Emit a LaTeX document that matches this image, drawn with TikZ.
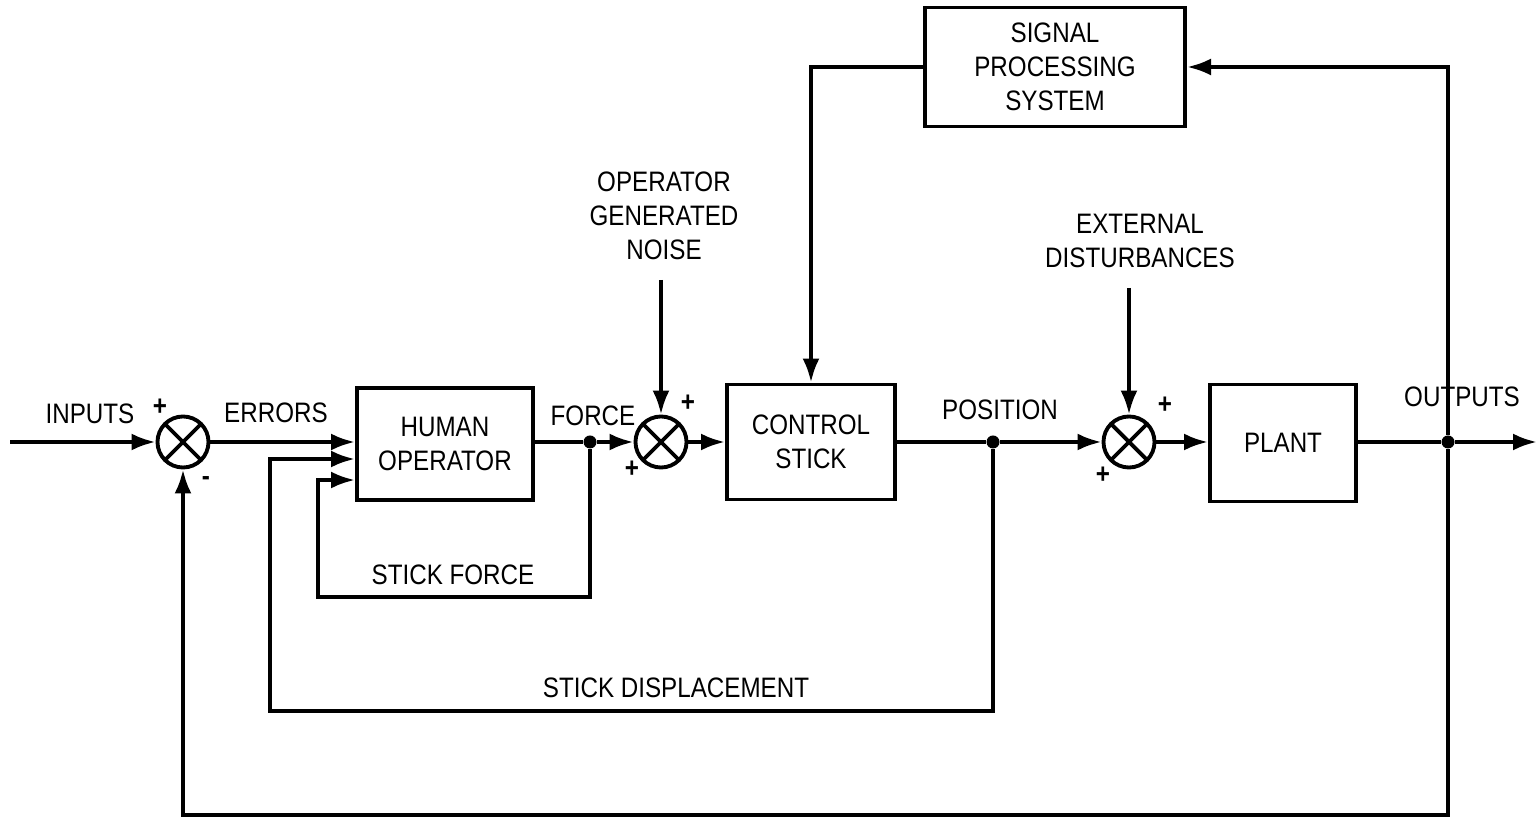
\documentclass[tikz,border=0pt]{standalone}
\usepackage{fontspec}
\setmainfont{Liberation Sans}[FakeStretch=0.86]
\usetikzlibrary{
  positioning,
  arrows.meta
}

\begin{document}
\begin{tikzpicture}[
  x=0.01cm, y=-0.01cm,
  every node/.style={font=\fontsize{8}{9.6}\selectfont},
  block/.style={draw, line width=1.1pt, inner sep=0pt, align=center},
  sumj/.style={draw, line width=1.1pt, circle, minimum size=0.51cm, inner sep=0pt,
               path picture={
                 \draw[line width=1.1pt] (path picture bounding box.north west) -- (path picture bounding box.south east)
                              (path picture bounding box.north east) -- (path picture bounding box.south west);
               }},
  jdot/.style={circle, fill, inner sep=0pt, minimum size=0.13cm},
  lbl/.style={align=center, inner sep=1pt},
  sgn/.style={inner sep=0pt, font=\fontsize{8}{9}\selectfont\bfseries},
  arr/.style={-{Latex[length=2.4mm,width=1.7mm]}, line width=1.1pt},
  line/.style={line width=1.1pt}
]
  \useasboundingbox (0,0) rectangle (1539,825);

  % Blocks
  \node[block, minimum width=1.76cm, minimum height=1.12cm] (human) at (445,444) {HUMAN\\OPERATOR};
  \node[block, minimum width=1.68cm, minimum height=1.15cm] (stick) at (811,442) {CONTROL\\STICK};
  \node[block, minimum width=1.46cm, minimum height=1.17cm] (plant) at (1283,443) {PLANT};
  \node[block, minimum width=2.60cm, minimum height=1.19cm] (sps) at (1055,67) {SIGNAL\\PROCESSING\\SYSTEM};

  % Summing junctions
  \node[sumj] (sum1) at (183,442) {};
  \node[sumj] (sum2) at (661,442) {};
  \node[sumj] (sum3) at (1129,442) {};

  % Branch points
  \node[jdot] (forcedot) at (590,442) {};
  \node[jdot] (posdot) at (993,442) {};
  \node[jdot] (outdot) at (1448,442) {};

  % Free ends
  \coordinate (in) at (10,442);
  \coordinate (out) at (1537,442);
  \coordinate (noise) at (661,280);
  \coordinate (dist) at (1129,288);
  \coordinate (errin) at (human.west |- sum1);
  \coordinate (sdin) at ([yshift=-0.17cm]human.west |- sum1);
  \coordinate (sfin) at ([yshift=-0.38cm]human.west |- sum1);

  % Labels
  \node[lbl] at (90,414) {INPUTS};
  \node[lbl] at (276,413) {ERRORS};
  \node[lbl] at (593,416) {FORCE};
  \node[lbl] at (1000,410) {POSITION};
  \node[lbl] at (1462,397) {OUTPUTS};
  \node[lbl] at (664,216) {OPERATOR\\GENERATED\\NOISE};
  \node[lbl] at (1140,241) {EXTERNAL\\DISTURBANCES};
  \node[lbl] at (453,575) {STICK FORCE};
  \node[lbl] at (676,688) {STICK DISPLACEMENT};

  % Signs
  \node[sgn] at (160,407) {+};
  \node[sgn] at (206,481) {-};
  \node[sgn] at (688,403) {+};
  \node[sgn] at (632,469) {+};
  \node[sgn] at (1165,405) {+};
  \node[sgn] at (1103,475) {+};

  % Forward path
  \draw[arr] (in) -- (sum1);
  \draw[arr] (sum1) -- (errin);
  \draw[line] (human.east |- forcedot) -- (forcedot);
  \draw[arr] (forcedot) -- (sum2);
  \draw[arr] (noise) -- (sum2);
  \draw[arr] (sum2) -- (stick.west |- sum2);
  \draw[line] (stick.east |- posdot) -- (posdot);
  \draw[arr] (posdot) -- (sum3);
  \draw[arr] (dist) -- (sum3);
  \draw[arr] (sum3) -- (plant.west |- sum3);
  \draw[line] (plant.east |- outdot) -- (outdot);
  \draw[arr] (outdot) -- (out);

  % Inner loops
  \draw[arr] (forcedot) |- (318,597) |- (sfin);
  \draw[arr] (posdot) |- (270,711) |- (sdin);

  % Signal processing loop
  \draw[arr] (outdot) |- (sps.east);
  \draw[arr] (sps.west) -| (stick.north);

  % Outer loop
  \draw[arr] (outdot) |- (183,815) -- (sum1);

\end{tikzpicture}
\end{document}
